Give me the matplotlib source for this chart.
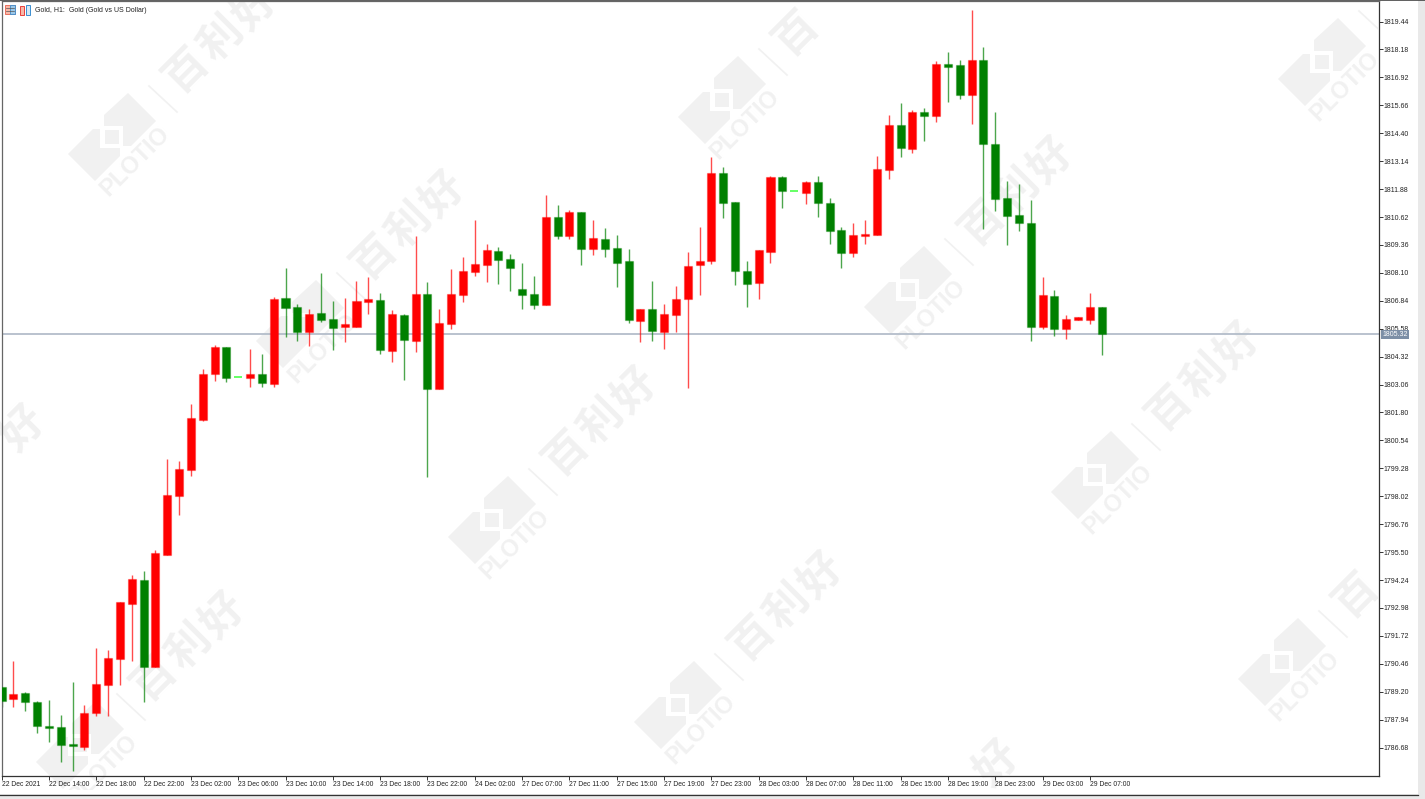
import numpy as np
import matplotlib
matplotlib.use('Agg')
import matplotlib.pyplot as plt
from matplotlib.patches import Polygon, Rectangle

# Hourly candles
opens = [1789.42, 1788.85, 1789.13, 1788.72, 1787.66, 1787.62, 1786.84, 1786.70, 1788.25, 1789.50,
         1790.69, 1793.15, 1794.24, 1790.33, 1795.38, 1798.04, 1799.22, 1801.47, 1803.52, 1804.77,
         1803.40, 1803.37, 1803.55, 1803.08, 1806.96, 1806.57, 1805.43, 1806.29, 1806.02, 1805.67,
         1805.67, 1806.77, 1806.89, 1804.57, 1806.18, 1805.04, 1807.16, 1802.86, 1805.79, 1807.11,
         1808.14, 1808.45, 1809.07, 1808.72, 1807.36, 1807.14, 1806.63, 1810.60, 1809.75, 1810.84,
         1809.16, 1809.63, 1809.23, 1808.63, 1805.94, 1806.45, 1805.43, 1806.21, 1806.92, 1808.45,
         1808.62, 1812.60, 1811.31, 1808.18, 1807.63, 1809.04, 1812.44, 1811.80, 1811.70, 1812.20,
         1811.26, 1810.02, 1808.99, 1809.77, 1809.82, 1812.75, 1814.78, 1813.69, 1815.34, 1815.18,
         1817.52, 1817.49, 1816.12, 1817.69, 1813.93, 1811.49, 1810.71, 1810.36, 1805.67, 1807.04,
         1805.56, 1805.98, 1805.98, 1806.54]
highs = [1789.42, 1790.60, 1789.18, 1788.76, 1788.81, 1788.15, 1789.62, 1788.60, 1791.16, 1791.08,
         1793.26, 1794.46, 1794.64, 1795.60, 1799.68, 1799.61, 1802.18, 1803.76, 1804.84, 1804.77,
         1803.40, 1804.65, 1804.45, 1806.99, 1808.30, 1806.68, 1806.45, 1808.09, 1806.81, 1806.96,
         1807.74, 1807.91, 1807.19, 1806.42, 1806.24, 1809.75, 1807.67, 1806.45, 1808.26, 1808.80,
         1810.48, 1809.40, 1809.28, 1808.95, 1808.53, 1807.97, 1811.61, 1811.16, 1810.92, 1810.84,
         1810.48, 1810.12, 1809.81, 1809.19, 1806.45, 1807.74, 1806.69, 1807.50, 1809.04, 1810.17,
         1813.31, 1812.87, 1811.31, 1808.63, 1809.11, 1812.47, 1812.47, 1811.80, 1812.23, 1812.47,
         1811.46, 1810.15, 1810.33, 1810.48, 1813.37, 1815.21, 1815.76, 1815.45, 1815.52, 1817.64,
         1818.05, 1817.69, 1819.96, 1818.28, 1815.34, 1812.23, 1812.12, 1811.39, 1807.91, 1807.32,
         1806.18, 1806.11, 1807.19, 1806.54]
lows = [1788.51, 1788.52, 1788.33, 1787.32, 1786.91, 1786.03, 1785.62, 1786.58, 1788.10, 1788.10,
        1789.50, 1790.60, 1788.73, 1790.33, 1795.38, 1797.17, 1798.94, 1801.43, 1803.22, 1803.17,
        1803.40, 1802.96, 1802.96, 1802.96, 1805.20, 1805.01, 1804.80, 1805.88, 1804.62, 1804.96,
        1805.67, 1806.25, 1804.45, 1804.06, 1803.25, 1804.54, 1798.89, 1802.86, 1805.56, 1806.80,
        1807.97, 1807.70, 1807.59, 1807.28, 1806.47, 1806.45, 1806.63, 1809.63, 1809.63, 1808.45,
        1808.92, 1808.83, 1807.47, 1805.84, 1804.99, 1805.04, 1804.68, 1805.43, 1802.89, 1807.11,
        1808.50, 1810.59, 1807.55, 1806.57, 1806.92, 1808.53, 1811.02, 1811.80, 1811.22, 1810.63,
        1809.40, 1808.33, 1808.80, 1809.39, 1809.82, 1812.33, 1813.34, 1813.51, 1814.05, 1814.92,
        1815.81, 1815.93, 1814.83, 1810.08, 1810.89, 1809.35, 1809.97, 1805.04, 1805.56, 1805.25,
        1805.13, 1805.98, 1805.79, 1804.40]
closes = [1788.79, 1789.08, 1788.72, 1787.64, 1787.56, 1786.78, 1786.73, 1788.25, 1789.55, 1790.72,
          1793.23, 1794.28, 1790.33, 1795.46, 1798.07, 1799.25, 1801.55, 1803.55, 1804.77, 1803.37,
          1803.40, 1803.55, 1803.13, 1806.92, 1806.50, 1805.43, 1806.25, 1805.98, 1805.62, 1805.79,
          1806.84, 1806.92, 1804.62, 1806.23, 1805.05, 1807.16, 1802.86, 1805.82, 1807.14, 1808.17,
          1808.48, 1809.11, 1808.68, 1808.30, 1807.11, 1806.65, 1810.63, 1809.75, 1810.84, 1809.19,
          1809.66, 1809.19, 1808.56, 1805.98, 1806.45, 1805.47, 1806.25, 1806.92, 1808.41, 1808.63,
          1812.60, 1811.26, 1808.18, 1807.59, 1809.11, 1812.44, 1811.78, 1811.80, 1812.20, 1811.26,
          1809.99, 1808.99, 1809.79, 1809.85, 1812.78, 1814.76, 1813.73, 1815.34, 1815.18, 1817.52,
          1817.37, 1816.12, 1817.72, 1813.90, 1811.43, 1810.68, 1810.33, 1805.64, 1807.09, 1805.56,
          1806.02, 1806.11, 1806.54, 1805.34]

last_price = 1805.32
price_ticks = [1786.68, 1787.94, 1789.20, 1790.46, 1791.72, 1792.98, 1794.24, 1795.50, 1796.76, 1798.02,
               1799.28, 1800.54, 1801.80, 1803.06, 1804.32, 1805.58, 1806.84, 1808.10, 1809.36, 1810.62,
               1811.88, 1813.14, 1814.40, 1815.66, 1816.92, 1818.18, 1819.44]
time_labels = ['22 Dec 2021', '22 Dec 14:00', '22 Dec 18:00', '22 Dec 22:00', '23 Dec 02:00', '23 Dec 06:00',
               '23 Dec 10:00', '23 Dec 14:00', '23 Dec 18:00', '23 Dec 22:00', '24 Dec 02:00', '27 Dec 07:00',
               '27 Dec 11:00', '27 Dec 15:00', '27 Dec 19:00', '27 Dec 23:00', '28 Dec 03:00', '28 Dec 07:00',
               '28 Dec 11:00', '28 Dec 15:00', '28 Dec 19:00', '28 Dec 23:00', '29 Dec 03:00', '29 Dec 07:00']
title = 'Gold, H1:  Gold (Gold vs US Dollar)'

# Watermark logo centres, in pixels
logo_centres = [(112, 137), (300, 324), (492, 520), (678, 705), (722, 100), (908, 290), (1095, 475),
                (1282, 662), (1322, 62), (80, 745), (-120, 558), (854, 893)]

W, H = 1425, 799
UP, DOWN, DOJI = '#ff0000', '#008000', '#00ff00'
TEXT = '#222222'
WM = '#f1f1f1'
plt.rcParams['font.family'] = ['Liberation Sans', 'DejaVu Sans']

fig = plt.figure(figsize=(W / 100, H / 100), dpi=100, facecolor='#e9e9e9')

# Background layer in pixel coordinates: window frame and watermarks
bg = fig.add_axes([0, 0, 1, 1], zorder=0)
bg.set_xlim(0, W)
bg.set_ylim(H, 0)
bg.axis('off')
bg.add_patch(Rectangle((0, 0), 1418, 794, fc='white', ec='none'))
bg.plot([0, 1418], [794.5, 794.5], color='#333333', lw=0.9)
bg.plot([0, W], [0.3, 0.3], color='#444444', lw=1.2)
clip = Rectangle((0, 2), 1378, 788, transform=bg.transData)

upper = np.array([(16, -44), (44, -16), (19, 9), (11, 9), (11, -11), (-8, -11), (-8, -22)])
lower = np.array([(-19, -8), (-12, -8), (-12, 11), (8, 11), (8, 19), (-17, 44), (-44, 17)])
square = np.array([(-7, -7), (7, -7), (7, 7), (-7, 7)])
for cx, cy in logo_centres:
    for shape in (upper, lower, square):
        p = Polygon(shape + (cx, cy), fc=WM, ec='none')
        bg.add_patch(p)
        p.set_clip_path(clip)
    ln, = bg.plot([cx + 37, cx + 65], [cy - 51, cy - 25], color=WM, lw=1.2)
    ln.set_clip_path(clip)
    t = bg.text(cx + 23, cy + 24, 'PLOTIO', color=WM, fontsize=17, fontweight='bold', rotation=45,
                ha='center', va='center', rotation_mode='anchor', clip_on=True)
    t.set_clip_path(clip)
    for k, ch in enumerate('百利好'):
        tx, ty = cx + 108 + (k - 1) * 34, cy - 98 - (k - 1) * 31
        # characters whose centre is off the frame are not drawn
        if not (0 < tx < 1378 and 5 < ty < 785):
            continue
        t = bg.text(tx, ty, ch, color=WM, fontsize=31, rotation=45,
                    family=['Noto Sans CJK SC', 'DejaVu Sans'], fontweight='bold',
                    ha='center', va='center', rotation_mode='anchor', clip_on=True)
        t.set_clip_path(clip)

# Chart axes
ax = fig.add_axes([1.5 / W, 1 - 775.5 / H, 1377 / W, 775 / H], zorder=1)
ax.patch.set_alpha(0)

o = np.array(opens)
h = np.array(highs)
l = np.array(lows)
c = np.array(closes)
x = np.arange(len(o))
is_up = c > o
is_down = c < o
is_doji = c == o

ax.axhline(last_price, color='#b4bdca', lw=1.3, zorder=1)

for mask, color in ((is_up, UP), (is_down, DOWN)):
    ax.vlines(x[mask], l[mask], h[mask], color=color, lw=1.0, alpha=0.7, zorder=2)
    ax.bar(x[mask], np.abs(c[mask] - o[mask]), bottom=np.minimum(o[mask], c[mask]), width=0.68,
           color=color, edgecolor=matplotlib.colors.to_rgba(color, 0.35), linewidth=0.9, zorder=3)
ax.hlines(o[is_doji], x[is_doji] - 0.34, x[is_doji] + 0.34, color=DOJI, lw=1.2, alpha=0.7, zorder=3)

ax.set_xlim(-0.01, 116.4)
ax.set_ylim(1785.42, 1820.39)

ax.yaxis.tick_right()
ax.set_yticks(price_ticks)
ax.set_yticklabels([f'{v:.2f}' for v in price_ticks], fontsize=5.0, color=TEXT)
ax.tick_params(axis='y', length=3, width=0.7, pad=0.5, color='#333333')
ax.set_xticks(x[::4])
ax.set_xticklabels(time_labels, fontsize=4.9, color=TEXT, ha='left')
ax.tick_params(axis='x', length=3, width=0.7, pad=1.3, color='#333333')
for spine in ('left', 'top'):
    ax.spines[spine].set_color('#666666')
    ax.spines[spine].set_linewidth(0.9)
for spine in ('right', 'bottom'):
    ax.spines[spine].set_color('#333333')
    ax.spines[spine].set_linewidth(0.9)

# Last price tag on the scale
ax.annotate(f'{last_price:.2f}', xy=(1, last_price), xycoords=('axes fraction', 'data'),
            xytext=(3, 0), textcoords='offset points', fontsize=5.0, color='white', va='center', ha='left',
            bbox=dict(boxstyle='square,pad=0.18', fc='#7d8fa6', ec='none'), annotation_clip=False, zorder=6)

# Header: two small icons and the symbol text
fg = fig.add_axes([0, 0, 1, 1], zorder=2)
fg.set_xlim(0, W)
fg.set_ylim(H, 0)
fg.axis('off')
fg.add_patch(Rectangle((5, 5), 10, 9, fc='#f8b8a8', ec='#e8604c', lw=0.6))
fg.add_patch(Rectangle((10, 5), 5, 9, fc='#9cc8e8', ec='#3b8ed0', lw=0.6))
fg.plot([6, 14], [8, 8], color='#555555', lw=0.5)
fg.plot([6, 14], [11, 11], color='#555555', lw=0.5)
fg.add_patch(Rectangle((20, 6), 4.5, 9, fc='#f8b8a8', ec='#e8403c', lw=0.7))
fg.add_patch(Rectangle((26, 5), 4.5, 10, fc='#d5e8f5', ec='#3b8ed0', lw=0.7))
fg.text(35, 10, title, fontsize=5.0, color=TEXT, ha='left', va='center')

fig.savefig('out.png', dpi=100, facecolor=fig.get_facecolor())
